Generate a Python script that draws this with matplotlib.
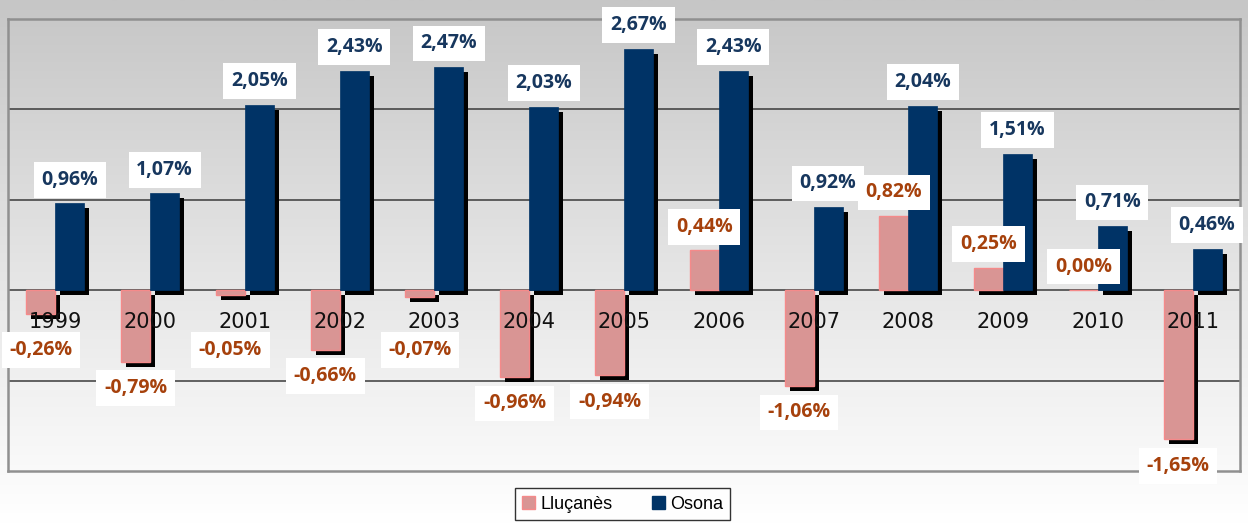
import matplotlib
matplotlib.use("Agg")
import matplotlib.pyplot as plt
import matplotlib.patheffects as pe
import numpy as np
from matplotlib.patches import Patch

# data
years = ['1999', '2000', '2001', '2002', '2003', '2004', '2005',
         '2006', '2007', '2008', '2009', '2010', '2011']
llucanes = [-0.26, -0.79, -0.05, -0.66, -0.07, -0.96, -0.94,
            0.44, -1.06, 0.82, 0.25, 0.00, -1.65]
osona = [0.96, 1.07, 2.05, 2.43, 2.47, 2.03, 2.67,
         2.43, 0.92, 2.04, 1.51, 0.71, 0.46]
series_names = ['Lluçanès', 'Osona']

pink = '#d99594'
pink_edge = '#f58a8a'
navy = '#003366'
red_txt = '#a6410c'
blue_txt = '#17375e'


def fmt(v):
    return f"{v:.2f}".replace('.', ',') + '%'


fig = plt.figure(figsize=(12.48, 5.24), dpi=100)

# vertical gray -> white gradient behind everything
bg = fig.add_axes([0, 0, 1, 1], zorder=-10)
grad = np.linspace(0, 1, 256).reshape(-1, 1)
bg.imshow(grad, aspect='auto', cmap=matplotlib.colors.LinearSegmentedColormap.from_list(
    'g', ['#c6c6c6', '#e4e4e4', '#ffffff']), extent=[0, 1, 0, 1])
bg.axis('off')

ax = fig.add_axes([8 / 1248, 53 / 524, 1232 / 1248, 452 / 524])
ax.set_facecolor('none')
ax.set_xlim(-0.5, len(years) - 0.5)
ax.set_ylim(-2, 3)

ax.set_yticks([-1, 0, 1, 2])
ax.set_yticklabels([])
ax.set_xticks([])
ax.tick_params(length=0)
ax.yaxis.grid(True, color='#3a3a3a', linewidth=1.1)
ax.set_axisbelow(True)
for s in ax.spines.values():
    s.set_color('#909090')
    s.set_linewidth(1.8)

x = np.arange(len(years))
w = 0.306
shadow = [pe.SimplePatchShadow(offset=(3.6, -3.6), shadow_rgbFace='black', alpha=1.0), pe.Normal()]

b1 = ax.bar(x - w / 2, llucanes, width=w, color=pink, edgecolor=pink_edge,
            linewidth=1.0, zorder=3)
b2 = ax.bar(x + w / 2, osona, width=w, color=navy, edgecolor=navy,
            linewidth=0.5, zorder=3)
for b in list(b1) + list(b2):
    b.set_path_effects(shadow)

# year labels sit just under the zero line
for i, yr in enumerate(years):
    ax.annotate(yr, (x[i], 0), xytext=(0, -23), textcoords='offset points',
                ha='center', va='center', fontsize=15, family='DejaVu Sans',
                color='#111111', zorder=4)

box = dict(boxstyle='square,pad=0.4', facecolor='white', edgecolor='none')
for i in range(len(years)):
    v = osona[i]
    ax.annotate(fmt(v), (x[i] + w / 2, v), xytext=(0, 17), textcoords='offset points',
                ha='center', va='center', fontsize=14, fontweight='bold',
                family='Open Sans', color=blue_txt, bbox=box, zorder=6)
    v = llucanes[i]
    if v >= 0:
        ax.annotate(fmt(v), (x[i] - w / 2, v), xytext=(0, 17), textcoords='offset points',
                    ha='center', va='center', fontsize=14, fontweight='bold',
                    family='Open Sans', color=red_txt, bbox=box, zorder=6)
    else:
        ax.annotate(fmt(v), (x[i] - w / 2, min(v, -0.37)), xytext=(0, -19),
                    textcoords='offset points', ha='center', va='center',
                    fontsize=14, fontweight='bold', family='Open Sans',
                    color=red_txt, bbox=box, zorder=6)

handles = [Patch(facecolor=pink, edgecolor=pink_edge, label=series_names[0]),
           Patch(facecolor=navy, edgecolor=navy, label=series_names[1])]
leg = fig.legend(handles=handles, loc='upper center', bbox_to_anchor=(0.499, 0.068),
                 ncol=2, frameon=True, fancybox=False, handlelength=0.7,
                 handleheight=0.7, handletextpad=0.3, columnspacing=2.2,
                 borderpad=0.4, borderaxespad=0.0,
                 prop={'family': 'Liberation Sans', 'size': 13})
leg.get_frame().set_edgecolor('black')
leg.get_frame().set_linewidth(1.0)
leg.get_frame().set_facecolor('white')

fig.savefig('out.png', dpi=100)
